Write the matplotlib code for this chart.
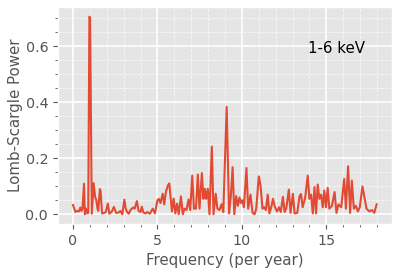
import matplotlib
matplotlib.use("Agg")
import matplotlib.pyplot as plt
from matplotlib.ticker import MultipleLocator

# Lomb-Scargle power, 1-6 keV band
freq = [
    0.0, 0.14, 0.25, 0.35, 0.43, 0.5, 0.56, 0.65, 0.7, 0.76, 0.85, 0.9,
    0.97, 1.01, 1.11, 1.22, 1.31, 1.38, 1.45, 1.49, 1.59, 1.63, 1.72, 1.85,
    1.94, 2.06, 2.15, 2.3, 2.42, 2.55, 2.7, 2.8, 2.92, 3.04, 3.12, 3.2,
    3.3, 3.4, 3.55, 3.65, 3.78, 3.88, 4.0, 4.07, 4.17, 4.3, 4.4, 4.55,
    4.72, 4.85, 5.0, 5.08, 5.18, 5.31, 5.4, 5.5, 5.62, 5.7, 5.86, 5.96,
    6.06, 6.16, 6.26, 6.39, 6.5, 6.6, 6.72, 6.84, 6.94, 7.06, 7.16, 7.28,
    7.39, 7.49, 7.63, 7.72, 7.8, 7.88, 7.98, 8.08, 8.22, 8.32, 8.45, 8.55,
    8.67, 8.8, 8.9, 9.1, 9.24, 9.34, 9.45, 9.55, 9.66, 9.76, 9.86, 9.94,
    10.03, 10.12, 10.27, 10.37, 10.51, 10.63, 10.75, 10.85, 11.0, 11.1, 11.22, 11.32,
    11.42, 11.53, 11.63, 11.74, 11.84, 11.96, 12.08, 12.2, 12.3, 12.43, 12.53, 12.63,
    12.78, 12.88, 13.02, 13.12, 13.28, 13.41, 13.5, 13.6, 13.75, 13.9, 14.0, 14.1,
    14.2, 14.3, 14.39, 14.49, 14.59, 14.69, 14.79, 14.88, 14.98, 15.08, 15.18, 15.33,
    15.49, 15.6, 15.72, 15.88, 16.06, 16.16, 16.29, 16.41, 16.51, 16.63, 16.75, 16.87,
    16.98, 17.14, 17.26, 17.38, 17.55, 17.7, 17.84, 17.98,
]
power = [
    0.033, 0.008, 0.012, 0.010, 0.024, 0.012, 0.020, 0.109, 0.0, 0.020, 0.003, 0.005,
    0.705, 0.700, 0.002, 0.111, 0.061, 0.050, 0.020, 0.012, 0.090, 0.083, 0.003, 0.005,
    0.008, 0.038, 0.002, 0.010, 0.026, 0.005, 0.006, 0.012, 0.0, 0.052, 0.020, 0.008,
    0.002, 0.015, 0.024, 0.020, 0.047, 0.012, 0.008, 0.027, 0.006, 0.003, 0.008, 0.002,
    0.020, 0.003, 0.050, 0.055, 0.040, 0.073, 0.035, 0.080, 0.103, 0.110, 0.010, 0.056,
    0.003, 0.038, 0.0, 0.064, 0.0, 0.020, 0.015, 0.053, 0.015, 0.138, 0.020, 0.020,
    0.142, 0.020, 0.147, 0.055, 0.091, 0.055, 0.091, 0.0, 0.241, 0.0, 0.073, 0.020,
    0.015, 0.036, 0.008, 0.383, 0.003, 0.060, 0.168, 0.0, 0.065, 0.030, 0.060, 0.040,
    0.050, 0.025, 0.165, 0.020, 0.070, 0.005, 0.0, 0.020, 0.135, 0.105, 0.020, 0.025,
    0.015, 0.070, 0.003, 0.025, 0.055, 0.025, 0.010, 0.025, 0.008, 0.062, 0.008, 0.022,
    0.088, 0.005, 0.073, 0.003, 0.005, 0.064, 0.072, 0.025, 0.060, 0.138, 0.055, 0.070,
    0.003, 0.097, 0.003, 0.106, 0.055, 0.070, 0.025, 0.085, 0.025, 0.094, 0.020, 0.030,
    0.079, 0.005, 0.035, 0.025, 0.126, 0.020, 0.171, 0.005, 0.120, 0.020, 0.030, 0.010,
    0.025, 0.099, 0.060, 0.020, 0.010, 0.015, 0.005, 0.035,
]
band_label = "1-6 keV"

plt.style.use("ggplot")
fig = plt.figure(figsize=(3.99, 2.72), dpi=100)
ax = fig.add_axes([0.145, 0.176, 0.837, 0.799])

ax.plot(freq, power, color="#E24A33", linewidth=1.5)

ax.xaxis.set_major_locator(MultipleLocator(5))
ax.xaxis.set_minor_locator(MultipleLocator(1))
ax.yaxis.set_major_locator(MultipleLocator(0.2))
ax.yaxis.set_minor_locator(MultipleLocator(0.05))
ax.grid(True, which="major", color="white", linestyle="-", linewidth=1.2)
ax.grid(True, which="minor", color="white", linestyle="--", linewidth=0.6, alpha=0.7)
ax.tick_params(axis="both", which="major", labelsize=10.3, colors="#555555")
ax.tick_params(axis="both", which="minor", colors="#555555")

ax.set_xlabel("Frequency (per year)", fontsize=10.8, color="#555555")
ax.set_ylabel("Lomb-Scargle Power", fontsize=10.8, color="#555555", labelpad=2)
ax.text(0.75, 0.81, band_label, transform=ax.transAxes, fontsize=10.8,
        color="black", va="center")

fig.savefig("out.png", dpi=100)
